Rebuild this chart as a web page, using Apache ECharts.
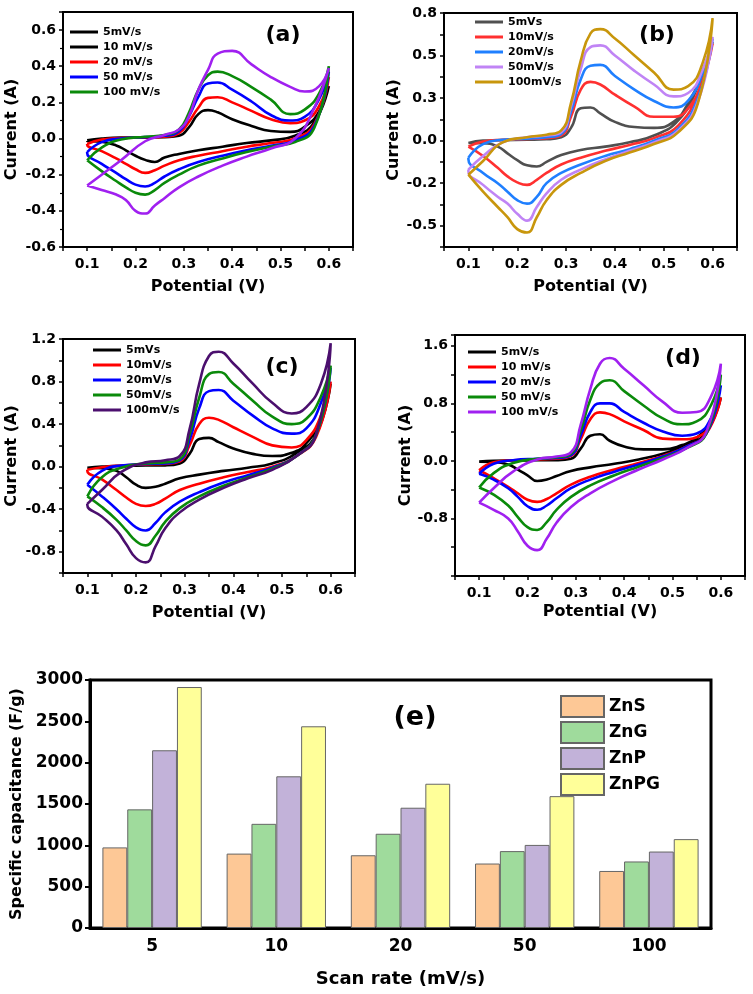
<!DOCTYPE html>
<html>
<head>
  <meta charset="utf-8">
  <title>CV curves and specific capacitance</title>
  <script src="https://cdn.jsdelivr.net/npm/echarts@6/dist/echarts.min.js"></script>
  <style>
    html, body { margin: 0; padding: 0; background: #fff; }
    #main { width: 753px; height: 994px; }
  </style>
</head>
<body>
<div id="main"></div>
<script>
  // potentials sampled on the anodic (forward) and cathodic (reverse) sweeps
  const vFwd = [0.10, 0.13, 0.17, 0.22, 0.26, 0.29, 0.31, 0.33, 0.35, 0.37, 0.40, 0.44, 0.48, 0.52, 0.55, 0.58, 0.60];
  const vRev = [0.57, 0.53, 0.48, 0.43, 0.38, 0.33, 0.29, 0.26, 0.24, 0.22, 0.20, 0.18, 0.16, 0.13, 0.10];

  // (a)
  const aNames = ['5mV/s', '10 mV/s', '20 mV/s', '50 mV/s', '100 mV/s'];
  const aFwd5 = [-0.01, 0.0, 0.005, 0.005, 0.008, 0.015, 0.06, 0.135, 0.157, 0.145, 0.107, 0.07, 0.042, 0.037, 0.065, 0.15, 0.29];
  const aRev5 = [0.09, 0.015, -0.01, -0.025, -0.045, -0.065, -0.085, -0.105, -0.13, -0.118, -0.095, -0.065, -0.038, -0.018, -0.013];
  const aFwd10 = [-0.03, -0.005, 0.003, 0.006, 0.01, 0.03, 0.09, 0.17, 0.225, 0.228, 0.2, 0.153, 0.107, 0.085, 0.1, 0.18, 0.34];
  const aRev10 = [0.08, 0.0, -0.025, -0.045, -0.07, -0.095, -0.12, -0.15, -0.175, -0.19, -0.17, -0.14, -0.11, -0.07, -0.035];
  const aFwd20 = [-0.075, -0.02, 0.0, 0.008, 0.015, 0.04, 0.12, 0.23, 0.305, 0.31, 0.27, 0.205, 0.13, 0.1, 0.12, 0.22, 0.37];
  const aRev20 = [0.07, -0.01, -0.04, -0.065, -0.095, -0.13, -0.17, -0.21, -0.245, -0.265, -0.255, -0.225, -0.19, -0.14, -0.08];
  const aFwd50 = [-0.12, -0.05, -0.005, 0.01, 0.02, 0.05, 0.14, 0.27, 0.35, 0.37, 0.345, 0.285, 0.215, 0.135, 0.16, 0.25, 0.40];
  const aRev50 = [0.06, -0.02, -0.045, -0.075, -0.11, -0.15, -0.2, -0.245, -0.285, -0.31, -0.3, -0.27, -0.235, -0.18, -0.12];
  const aFwd100 = [-0.26, -0.2, -0.12, -0.015, 0.02, 0.05, 0.12, 0.27, 0.38, 0.47, 0.485, 0.41, 0.34, 0.286, 0.26, 0.29, 0.39];
  const aRev100 = [0.17, 0.0, -0.055, -0.1, -0.15, -0.21, -0.27, -0.33, -0.37, -0.415, -0.4, -0.34, -0.31, -0.285, -0.26];

  // (b)
  const bNames = ['5mVs', '10mV/s', '20mV/s', '50mV/s', '100mV/s'];
  const bFwd5 = [-0.014, 0.0, 0.003, 0.005, 0.008, 0.02, 0.075, 0.19, 0.195, 0.16, 0.11, 0.08, 0.075, 0.11, 0.22, 0.40, 0.58];
  const bRev5 = [0.32, 0.12, 0.03, -0.01, -0.035, -0.055, -0.085, -0.125, -0.152, -0.145, -0.115, -0.075, -0.035, -0.015, -0.014];
  const bFwd10 = [-0.035, -0.005, 0.005, 0.01, 0.015, 0.03, 0.14, 0.3, 0.345, 0.33, 0.27, 0.2, 0.14, 0.14, 0.19, 0.36, 0.57];
  const bRev10 = [0.28, 0.09, 0.015, -0.025, -0.06, -0.1, -0.14, -0.19, -0.23, -0.26, -0.245, -0.21, -0.16, -0.09, -0.035];
  const bFwd20 = [-0.1, -0.02, 0.005, 0.012, 0.02, 0.04, 0.17, 0.36, 0.44, 0.445, 0.38, 0.3, 0.233, 0.195, 0.235, 0.4, 0.6];
  const bRev20 = [0.25, 0.07, 0.0, -0.05, -0.09, -0.14, -0.19, -0.25, -0.33, -0.37, -0.35, -0.3, -0.25, -0.19, -0.11];
  const bFwd50 = [-0.17, -0.09, -0.01, 0.02, 0.03, 0.05, 0.2, 0.42, 0.55, 0.56, 0.5, 0.41, 0.33, 0.26, 0.28, 0.42, 0.61];
  const bRev50 = [0.23, 0.06, -0.01, -0.06, -0.11, -0.17, -0.23, -0.31, -0.39, -0.47, -0.43, -0.37, -0.33, -0.26, -0.18];
  const bFwd100 = [-0.2, -0.12, -0.01, 0.02, 0.035, 0.06, 0.22, 0.47, 0.63, 0.655, 0.6, 0.5, 0.4, 0.3, 0.32, 0.46, 0.72];
  const bRev100 = [0.22, 0.05, -0.02, -0.07, -0.12, -0.19, -0.26, -0.35, -0.45, -0.54, -0.52, -0.45, -0.39, -0.3, -0.2];
  const bTickVals = [-0.5, -0.25, 0, 0.25, 0.5, 0.75];
  const bTickText = ['-0.5', '-0.2', '0.0', '0.3', '0.5', '0.8'];

  // (c)
  const cNames = ['5mVs', '10mV/s', '20mV/s', '50mV/s', '100mV/s'];
  const cFwd5 = [-0.01, 0.0, 0.008, 0.01, 0.012, 0.03, 0.12, 0.26, 0.27, 0.23, 0.17, 0.12, 0.1, 0.13, 0.22, 0.45, 0.78];
  const cRev5 = [0.3, 0.13, 0.03, -0.01, -0.04, -0.075, -0.11, -0.16, -0.19, -0.2, -0.17, -0.1, -0.04, -0.015, -0.01];
  const cFwd10 = [-0.03, -0.005, 0.01, 0.02, 0.025, 0.05, 0.2, 0.4, 0.46, 0.44, 0.37, 0.28, 0.2, 0.18, 0.25, 0.48, 0.8];
  const cRev10 = [0.28, 0.1, 0.0, -0.05, -0.1, -0.16, -0.22, -0.3, -0.35, -0.37, -0.35, -0.29, -0.22, -0.12, -0.04];
  const cFwd20 = [-0.17, -0.04, 0.01, 0.025, 0.03, 0.06, 0.25, 0.55, 0.71, 0.72, 0.62, 0.48, 0.36, 0.31, 0.36, 0.6, 0.93];
  const cRev20 = [0.3, 0.1, -0.01, -0.08, -0.15, -0.24, -0.33, -0.43, -0.53, -0.6, -0.57, -0.49, -0.4, -0.28, -0.17];
  const cFwd50 = [-0.28, -0.1, -0.01, 0.03, 0.04, 0.07, 0.3, 0.65, 0.87, 0.89, 0.78, 0.62, 0.47, 0.4, 0.45, 0.66, 0.95];
  const cRev50 = [0.3, 0.1, -0.02, -0.1, -0.18, -0.28, -0.39, -0.52, -0.65, -0.74, -0.7, -0.6, -0.5, -0.38, -0.28];
  const cFwd100 = [-0.35, -0.22, -0.05, 0.04, 0.06, 0.1, 0.35, 0.78, 1.04, 1.08, 0.97, 0.78, 0.6, 0.5, 0.56, 0.78, 1.16];
  const cRev100 = [0.3, 0.1, -0.03, -0.11, -0.2, -0.31, -0.43, -0.58, -0.75, -0.9, -0.86, -0.73, -0.6, -0.47, -0.36];

  // (d)
  const dNames = ['5mV/s', '10 mV/s', '20 mV/s', '50 mV/s', '100 mV/s'];
  const dFwd5 = [-0.01, 0.0, 0.005, 0.008, 0.01, 0.03, 0.17, 0.35, 0.37, 0.28, 0.2, 0.16, 0.16, 0.22, 0.32, 0.55, 0.88];
  const dRev5 = [0.4, 0.22, 0.1, 0.02, -0.04, -0.09, -0.14, -0.21, -0.26, -0.28, -0.2, -0.12, -0.05, -0.015, -0.01];
  const dFwd10 = [-0.13, -0.02, 0.01, 0.02, 0.03, 0.07, 0.3, 0.58, 0.675, 0.65, 0.55, 0.43, 0.31, 0.3, 0.33, 0.52, 0.88];
  const dRev10 = [0.38, 0.2, 0.07, -0.03, -0.12, -0.22, -0.33, -0.45, -0.53, -0.57, -0.54, -0.45, -0.36, -0.24, -0.13];
  const dFwd20 = [-0.18, -0.04, 0.01, 0.03, 0.04, 0.08, 0.35, 0.68, 0.8, 0.8, 0.68, 0.53, 0.41, 0.35, 0.38, 0.6, 1.05];
  const dRev20 = [0.38, 0.2, 0.06, -0.05, -0.15, -0.26, -0.38, -0.52, -0.62, -0.68, -0.63, -0.5, -0.38, -0.26, -0.18];
  const dFwd50 = [-0.37, -0.17, -0.03, 0.03, 0.05, 0.1, 0.42, 0.85, 1.08, 1.12, 0.97, 0.77, 0.59, 0.51, 0.55, 0.78, 1.2];
  const dRev50 = [0.38, 0.18, 0.04, -0.08, -0.2, -0.34, -0.5, -0.68, -0.85, -0.96, -0.92, -0.78, -0.62, -0.47, -0.37];
  const dFwd100 = [-0.58, -0.38, -0.15, 0.02, 0.06, 0.12, 0.5, 1.0, 1.35, 1.43, 1.28, 1.05, 0.82, 0.67, 0.68, 0.9, 1.35];
  const dRev100 = [0.4, 0.18, 0.02, -0.12, -0.27, -0.45, -0.64, -0.86, -1.08, -1.24, -1.18, -0.98, -0.8, -0.68, -0.58];

  // (e)
  const scanRates = ['5', '10', '20', '50', '100'];
  const capNames = ['ZnS', 'ZnG', 'ZnP', 'ZnPG'];
  const capZnS = [975, 900, 880, 780, 690];
  const capZnG = [1435, 1260, 1140, 930, 805];
  const capZnP = [2150, 1835, 1455, 1005, 925];
  const capZnPG = [2915, 2440, 1745, 1595, 1075];

  const FONT = 'DejaVu Sans';
  function txt(size) {
    return { fontFamily: FONT, fontWeight: 'bold', fontSize: size, color: '#000' };
  }
  function isMult(v, step) {
    return Math.abs(v / step - Math.round(v / step)) < 1e-6;
  }
  function fix1(v) {
    return (Math.abs(v) < 1e-9 ? 0 : v).toFixed(1);
  }
  // forward sweep, then reverse sweep, closed back at the start
  function loop(fwd, rev) {
    const pts = vFwd.map((v, i) => [v, fwd[i]]);
    vRev.forEach((v, i) => pts.push([v, rev[i]]));
    pts.push([vFwd[0], fwd[0]]);
    return pts;
  }

  // grids: a, b, c, d, e
  const grids = [
    { left: 63, top: 12, width: 290, height: 235 },
    { left: 444, top: 13, width: 293, height: 234 },
    { left: 63, top: 339, width: 292, height: 234 },
    { left: 455, top: 335, width: 290, height: 241 },
    { left: 90, top: 680, width: 621, height: 248 }
  ];
  grids.forEach((g, i) => {
    g.show = true;
    g.borderColor = '#000';
    g.borderWidth = i === 4 ? 3 : 2;
  });

  function cvX(k, nameGap) {
    return {
      type: 'value', gridIndex: k, min: 0.05, max: 0.65, interval: 0.05,
      axisLine: { onZero: false, lineStyle: { color: '#000', width: 2 } },
      axisTick: { length: 4, lineStyle: { color: '#000', width: 1.5 } },
      splitLine: { show: false },
      axisLabel: Object.assign(txt(14), {
        margin: 10,
        formatter: v => (isMult(v, 0.1) && v > 0.06 && v < 0.64 ? fix1(v) : '')
      }),
      name: 'Potential (V)', nameLocation: 'middle', nameGap: nameGap,
      nameTextStyle: txt(16)
    };
  }
  function cvY(k, min, max, interval, formatter, nameGap, minor) {
    return {
      type: 'value', gridIndex: k, min: min, max: max, interval: interval,
      axisLine: { show: true, onZero: false, lineStyle: { color: '#000', width: 2 } },
      axisTick: { show: true, length: 4, lineStyle: { color: '#000', width: 1.5 } },
      minorTick: { show: !!minor, splitNumber: 2, length: 3, lineStyle: { color: '#000', width: 1.2 } },
      splitLine: { show: false },
      axisLabel: Object.assign(txt(14), { margin: 7, formatter: formatter }),
      name: 'Current (A)', nameLocation: 'middle', nameGap: nameGap,
      nameTextStyle: txt(16)
    };
  }

  const xAxes = [
    cvX(0, 32), cvX(1, 32), cvX(2, 32), cvX(3, 28),
    {
      type: 'category', gridIndex: 4, data: scanRates,
      axisLine: { lineStyle: { color: '#000', width: 3 } },
      axisTick: { alignWithLabel: true, length: 5, lineStyle: { color: '#000', width: 2 } },
      axisLabel: Object.assign(txt(17), { margin: 10 }),
      name: 'Scan rate (mV/s)', nameLocation: 'middle', nameGap: 42,
      nameTextStyle: txt(18)
    }
  ];
  const yAxes = [
    cvY(0, -0.6, 0.7, 0.2, v => (isMult(v, 0.2) && v < 0.65 ? fix1(v) : ''), 43, true),
    cvY(1, -0.625, 0.75, 0.125, v => {
      const i = bTickVals.findIndex(t => Math.abs(t - v) < 1e-6);
      return i < 0 ? '' : bTickText[i];
    }, 42, false),
    cvY(2, -1.0, 1.2, 0.2, v => (isMult(v, 0.4) ? fix1(v) : ''), 43, false),
    cvY(3, -1.6, 1.75, 0.4, v => (isMult(v, 0.8) && v > -1.5 && v < 1.7 ? fix1(v) : ''), 38, false),
    {
      type: 'value', gridIndex: 4, min: 0, max: 3000, interval: 500,
      axisLine: { show: true, lineStyle: { color: '#000', width: 3 } },
      axisTick: { show: true, length: 5, lineStyle: { color: '#000', width: 2 } },
      splitLine: { show: false },
      axisLabel: Object.assign(txt(17), { margin: 7, formatter: v => String(v) }),
      name: 'Specific capacitance (F/g)', nameLocation: 'middle', nameGap: 62,
      nameTextStyle: txt(16)
    }
  ];

  const cvPanels = [
    { names: aNames, colors: ['#000000', '#ff0000', '#0000ff', '#0a8a0a', '#a020f0'],
      legendColors: ['#000000', '#000000', '#ff0000', '#0000ff', '#0a8a0a'],
      loops: [[aFwd5, aRev5], [aFwd10, aRev10], [aFwd20, aRev20], [aFwd50, aRev50], [aFwd100, aRev100]],
      legendPos: { left: 70, top: 26 } },
    { names: bNames, colors: ['#505050', '#ff3030', '#1f7fff', '#c084f5', '#c8960c'],
      legendColors: null,
      loops: [[bFwd5, bRev5], [bFwd10, bRev10], [bFwd20, bRev20], [bFwd50, bRev50], [bFwd100, bRev100]],
      legendPos: { left: 475, top: 16 } },
    { names: cNames, colors: ['#000000', '#ff0000', '#0000ff', '#0a8a0a', '#4b0f6e'],
      legendColors: null,
      loops: [[cFwd5, cRev5], [cFwd10, cRev10], [cFwd20, cRev20], [cFwd50, cRev50], [cFwd100, cRev100]],
      legendPos: { left: 93, top: 344 } },
    { names: dNames, colors: ['#000000', '#ff0000', '#0000ff', '#0a8a0a', '#a020f0'],
      legendColors: null,
      loops: [[dFwd5, dRev5], [dFwd10, dRev10], [dFwd20, dRev20], [dFwd50, dRev50], [dFwd100, dRev100]],
      legendPos: { left: 468, top: 346 } }
  ];

  const series = [];
  const legends = [];
  cvPanels.forEach((p, k) => {
    p.loops.forEach((lp, i) => {
      series.push({
        type: 'line', name: p.names[i], xAxisIndex: k, yAxisIndex: k,
        data: loop(lp[0], lp[1]), smooth: 0.5, symbol: 'none',
        color: p.colors[i], lineStyle: { width: 2.6, color: p.colors[i] },
        silent: true
      });
    });
    const lc = p.legendColors || p.colors;
    legends.push({
      left: p.legendPos.left, top: p.legendPos.top, orient: 'vertical',
      padding: 0, itemGap: 3, itemWidth: 28, itemHeight: 3, icon: 'rect',
      selectedMode: false,
      textStyle: Object.assign(txt(11), { lineHeight: 12 }),
      itemStyle: { borderWidth: 0 },
      data: p.names.map((n, i) => ({ name: n, itemStyle: { color: lc[i], borderWidth: 0 } }))
    });
  });

  const capData = [capZnS, capZnG, capZnP, capZnPG];
  const capColors = ['#fdc896', '#9fdb9c', '#c2b2d9', '#ffff99'];
  capNames.forEach((n, i) => {
    series.push({
      type: 'bar', name: n, xAxisIndex: 4, yAxisIndex: 4, data: capData[i],
      barGap: '0%', barCategoryGap: '20%',
      itemStyle: { color: capColors[i], borderColor: '#666666', borderWidth: 1 }
    });
  });
  legends.push({
    left: 560, top: 695, orient: 'vertical', padding: 0, icon: 'rect',
    itemGap: 3, itemWidth: 43, itemHeight: 21, selectedMode: false,
    textStyle: txt(17), data: capNames
  });

  function tag(text, x, y, size) {
    return {
      type: 'text', x: x, y: y,
      style: { text: text, fontFamily: FONT, fontWeight: 'bold', fontSize: size, fill: '#000', align: 'center', verticalAlign: 'middle' }
    };
  }

  const myChart = echarts.init(document.getElementById('main'));
  myChart.setOption({
    animation: false,
    backgroundColor: '#fff',
    grid: grids,
    xAxis: xAxes,
    yAxis: yAxes,
    legend: legends,
    series: series,
    graphic: [
      tag('(a)', 283, 35, 22),
      tag('(b)', 657, 35, 22),
      tag('(c)', 282, 367, 22),
      tag('(d)', 683, 358, 22),
      tag('(e)', 415, 718, 27)
    ]
  });
</script>
</body>
</html>
